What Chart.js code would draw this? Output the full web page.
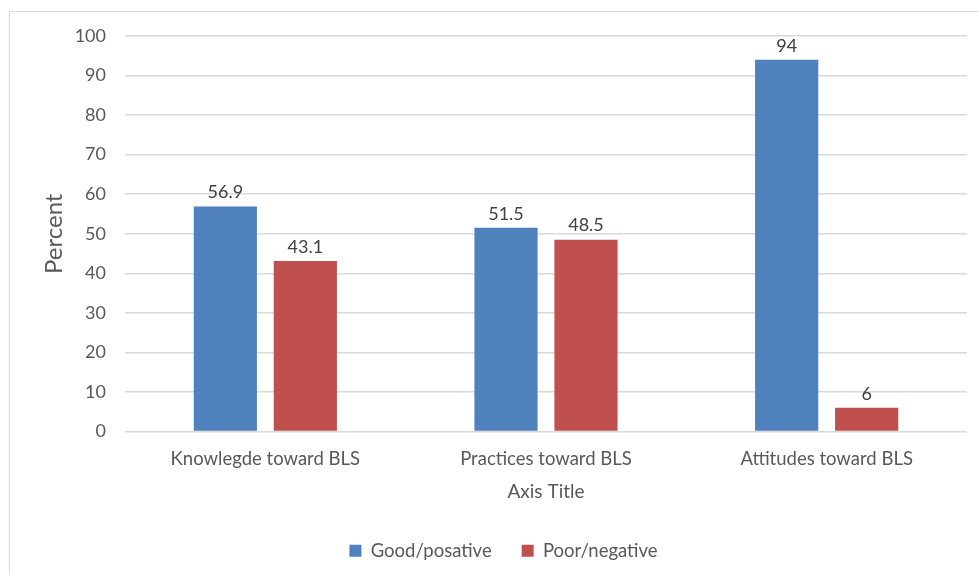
<!DOCTYPE html>
<html>
<head>
<meta charset="utf-8">
<style>
  html, body { margin: 0; padding: 0; background: #fff; }
  #wrap { position: relative; width: 979px; height: 575px; }
  #frame { position: absolute; left: 9px; top: 11px; width: 990px; height: 600px; border: 1px solid #d9d9d9; box-sizing: border-box; }
  canvas { position: absolute; left: 0; top: 0; }
</style>
<script src="https://cdn.jsdelivr.net/npm/chart.js"></script>
</head>
<body>
<div id="wrap">
  <div id="frame"></div>
  <canvas id="c" width="979" height="575"></canvas>
</div>
<script>
var categories = ["Knowlegde toward BLS", "Practices toward BLS", "Attitudes toward BLS"];
var goodValues = [56.9, 51.5, 94];
var poorValues = [43.1, 48.5, 6];
var seriesNames = ["Good/posative", "Poor/negative"];
var yTicks = [0, 10, 20, 30, 40, 50, 60, 70, 80, 90, 100];

var FONT = "Lato, 'Open Sans', sans-serif";

var barLabels = {
  id: "barLabels",
  afterDatasetsDraw: function (chart) {
    var ctx = chart.ctx;
    ctx.save();
    ctx.font = "18px " + FONT;
    ctx.fillStyle = "#404040";
    ctx.textAlign = "center";
    ctx.textBaseline = "bottom";
    chart.data.datasets.forEach(function (ds, i) {
      var meta = chart.getDatasetMeta(i);
      meta.data.forEach(function (bar, j) {
        ctx.fillText(String(ds.data[j]), bar.x, bar.y - 5);
      });
    });
    ctx.restore();
  }
};

// legend row is centred with its trailing padding counted; take it back off
var legendCenter = {
  id: "legendCenter",
  afterLayout: function (chart) {
    var lg = chart.legend;
    if (lg && lg.lineWidths) {
      lg.lineWidths = lg.lineWidths.map(function (w) { return w - 30; });
    }
  }
};

new Chart(document.getElementById("c"), {
  type: "bar",
  data: {
    labels: categories,
    datasets: [
      { label: seriesNames[0], data: goodValues, backgroundColor: "#4f81bd" },
      { label: seriesNames[1], data: poorValues, backgroundColor: "#c0504d" }
    ]
  },
  options: {
    responsive: false,
    animation: false,
    layout: { padding: { left: 10, right: 12, top: 36, bottom: 5 } },
    datasets: { bar: { categoryPercentage: 0.57, barPercentage: 0.79 } },
    scales: {
      x: {
        grid: { display: false },
        border: { display: false },
        ticks: { color: "#595959", font: { family: FONT, size: 18.5 }, padding: 8 },
        title: { display: true, text: "Axis Title", color: "#595959", font: { family: FONT, size: 19 }, padding: { top: 0, bottom: 8 } },
        afterFit: function (s) { s.height = 80; }
      },
      y: {
        min: 0, max: 100,
        afterBuildTicks: function (s) { s.ticks = yTicks.map(function (v) { return { value: v }; }); },
        grid: { color: "#d9d9d9", lineWidth: 1.5, drawTicks: false },
        border: { display: false },
        ticks: { color: "#595959", font: { family: FONT, size: 18 }, padding: 19 },
        title: { display: true, text: "Percent", color: "#595959", font: { family: FONT, size: 24 }, padding: { top: 30, bottom: 0 } },
        afterFit: function (s) { s.width = 115; }
      }
    },
    plugins: {
      legend: {
        position: "bottom",
        labels: { color: "#595959", font: { family: FONT, size: 18.5 }, boxWidth: 12, boxHeight: 12, padding: 30 }
      },
      tooltip: { enabled: false }
    }
  },
  plugins: [barLabels, legendCenter]
});
</script>
</body>
</html>
